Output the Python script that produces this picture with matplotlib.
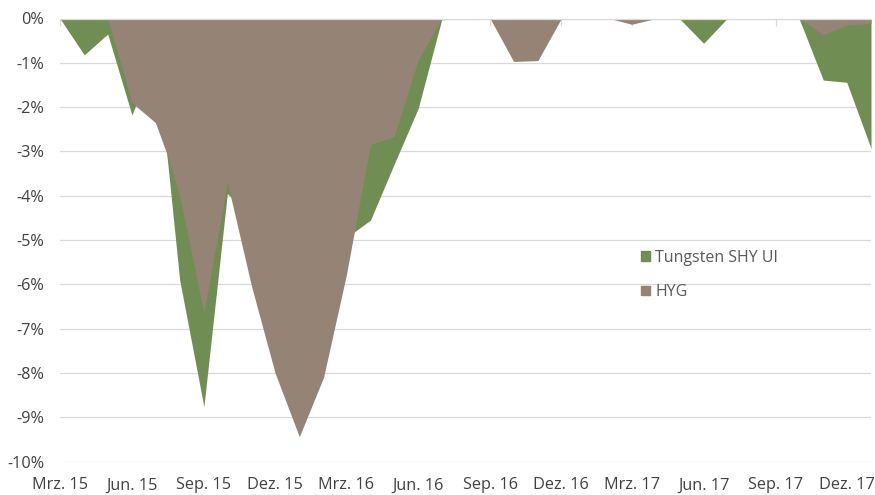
import matplotlib
matplotlib.use('Agg')
import matplotlib.pyplot as plt
import pandas as pd
from matplotlib.patches import Patch

# ---- data (drawdown in %) ----
dates = ['2015-03-01', '2015-04-01', '2015-05-01', '2015-06-01', '2015-07-01', '2015-07-17',
         '2015-08-01', '2015-09-01', '2015-10-01', '2015-11-01', '2015-12-01', '2016-01-01',
         '2016-02-01', '2016-03-01', '2016-04-01', '2016-05-01', '2016-06-01', '2016-07-01',
         '2016-08-01', '2016-09-01', '2016-10-01', '2016-11-01', '2016-12-01', '2017-01-01',
         '2017-02-01', '2017-03-01', '2017-04-01', '2017-05-01', '2017-06-01', '2017-07-01',
         '2017-08-01', '2017-09-01', '2017-10-01', '2017-11-01', '2017-12-01', '2018-01-01']
tungsten = [0, -0.82, -0.35, -2.18, -0.8, -3.3,
            -5.9, -8.76, -3.95, -4.5, -6.5, -7.5,
            -6.5, -4.95, -4.55, -3.3, -2.03, -0.03,
            0, 0, 0, 0, 0, 0,
            0, 0, 0, 0, -0.56, 0,
            0, 0, 0, -1.39, -1.44, -2.93]
hyg = [0, 0, 0, -1.9, -2.35, -3.12,
       -4.0, -6.65, -3.7, -6.05, -8.0, -9.44,
       -8.1, -5.8, -2.84, -2.67, -0.94, 0,
       0, 0, -0.97, -0.95, 0, 0,
       0, -0.13, 0, 0, 0, 0,
       0, 0, 0, -0.37, -0.15, -0.11]
series_names = ['Tungsten SHY UI', 'HYG']
tick_dates = ['2015-03-01', '2015-06-01', '2015-09-01', '2015-12-01',
              '2016-03-01', '2016-06-01', '2016-09-01', '2016-12-01',
              '2017-03-01', '2017-06-01', '2017-09-01', '2017-12-01']
tick_labels = ['Mrz. 15', 'Jun. 15', 'Sep. 15', 'Dez. 15',
               'Mrz. 16', 'Jun. 16', 'Sep. 16', 'Dez. 16',
               'Mrz. 17', 'Jun. 17', 'Sep. 17', 'Dez. 17']
y_ticks = [0, -1, -2, -3, -4, -5, -6, -7, -8, -9, -10]

GREEN = '#708E53'
BROWN = '#958376'
GRID = '#D9D9D9'

plt.rcParams['font.family'] = ['Open Sans', 'DejaVu Sans']

fig = plt.figure(figsize=(8.75, 4.95), dpi=100)
ax = fig.add_axes([60 / 875, 1 - 461.5 / 495, 811 / 875, 443 / 495])

x = pd.to_datetime(dates)
ax.fill_between(x, 0, tungsten, color=GREEN, lw=0, zorder=2)
ax.fill_between(x, 0, hyg, color=BROWN, lw=0, zorder=3)

ax.set_xlim(pd.Timestamp('2015-03-01'), pd.Timestamp('2018-01-01'))
ax.set_ylim(-10, 0)

ax.set_yticks(y_ticks)
ax.set_yticklabels([f'{v}%' for v in y_ticks])
ax.set_xticks(pd.to_datetime(tick_dates))
ax.set_xticklabels(tick_labels)

ax.grid(axis='y', color=GRID, lw=0.9, zorder=1)
ax.set_axisbelow(True)

for s in ['left', 'right', 'bottom']:
    ax.spines[s].set_visible(False)
ax.spines['top'].set_color(GRID)
ax.spines['top'].set_linewidth(0.9)
ax.spines['top'].set_zorder(5)

ax.tick_params(axis='y', length=0, pad=11.5, labelsize=11.7, labelcolor='#404040')
ax.tick_params(axis='x', bottom=False, top=True, labelbottom=True, labeltop=False,
               direction='in', length=5, width=0.9, color=GRID, pad=11.5,
               labelsize=11.7, labelcolor='#404040')

handles = [Patch(color=GREEN), Patch(color=BROWN)]
leg = ax.legend(handles, series_names, loc='upper left', bbox_to_anchor=(0.717, 0.478),
                frameon=False, handlelength=0.55, handleheight=0.55, handletextpad=0.3,
                labelspacing=1.15, fontsize=11.5, labelcolor='#595959',
                borderpad=0, borderaxespad=0)
leg.set_zorder(6)

fig.savefig('out.png', dpi=100)
